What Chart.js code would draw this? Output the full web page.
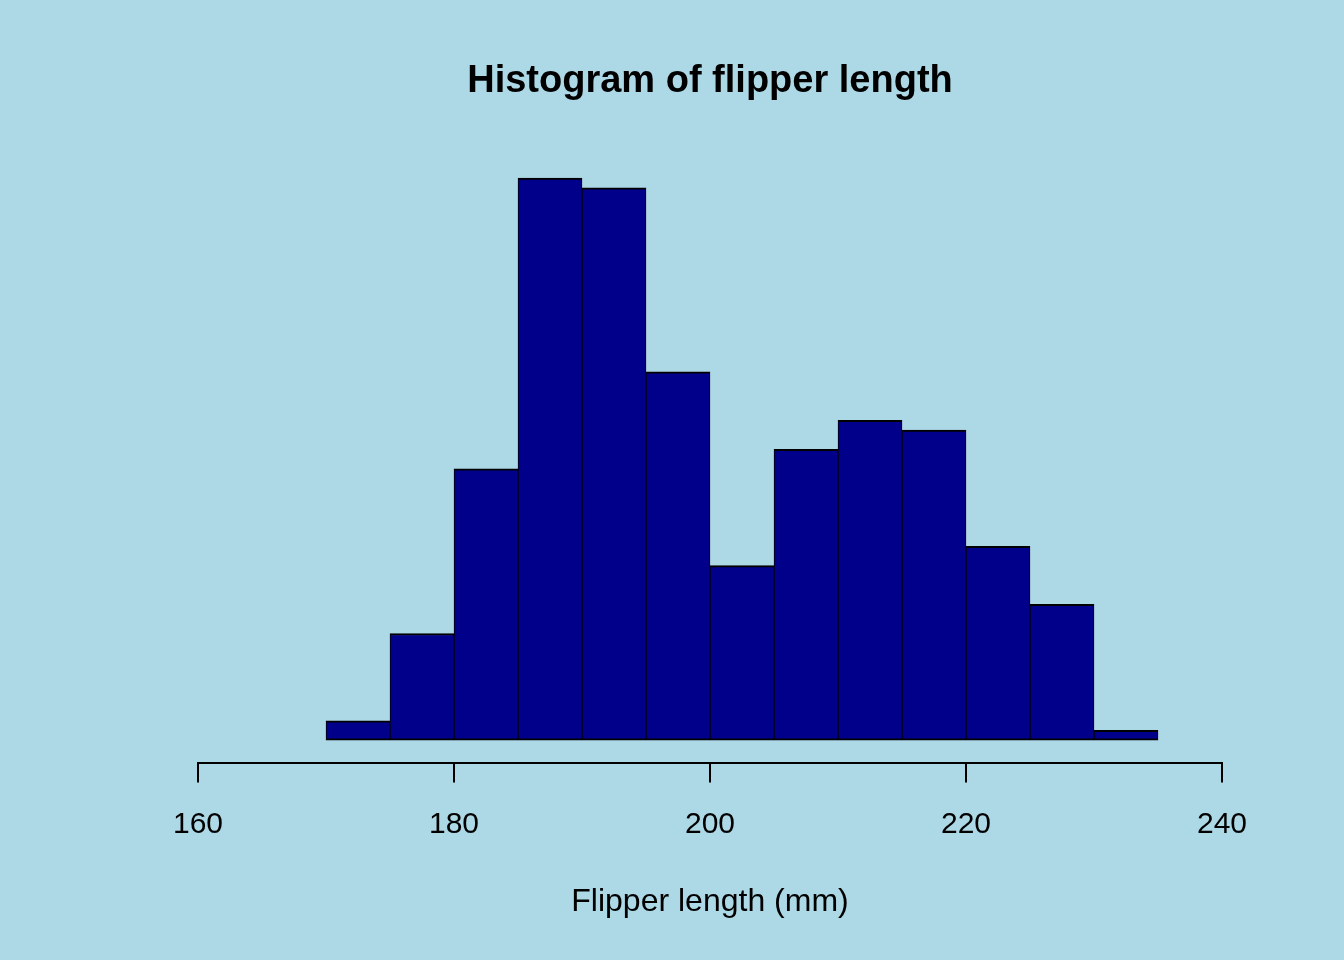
<!DOCTYPE html>
<html>
<head>
<meta charset="utf-8">
<title>Histogram of flipper length</title>
<script src="https://cdn.jsdelivr.net/npm/chart.js@4"></script>
<style>
  html, body { margin: 0; padding: 0; background: #ADD8E6; }
  #wrap { width: 1344px; height: 960px; }
</style>
</head>
<body>
<div id="wrap"><canvas id="myChart"></canvas></div>
<script>
// bin edges (width 5) and counts per bin
var breaks = [170, 175, 180, 185, 190, 195, 200, 205, 210, 215, 220, 225, 230, 235];
var counts = [2, 11, 28, 58, 57, 38, 18, 30, 33, 32, 20, 14, 1];
var xTicks = [160, 180, 200, 220, 240];

var points = [];
for (var i = 0; i < counts.length; i++) {
  points.push({ x: (breaks[i] + breaks[i + 1]) / 2, y: counts[i] });
}

var font = "Arial, 'Liberation Sans', sans-serif";
Chart.defaults.font.family = font;
Chart.defaults.color = '#000000';

var ctx = document.getElementById("myChart").getContext("2d");
var myChart = new Chart(ctx, {
  type: 'bar',
  data: {
    datasets: [{
      label: 'flipper length',
      data: points,
      backgroundColor: '#00008B',
      borderColor: '#000000',
      borderWidth: { top: 2, left: 1, right: 1, bottom: 2 },
      borderSkipped: false,
      barPercentage: 1,
      categoryPercentage: 1
    }]
  },
  options: {
    responsive: true,
    maintainAspectRatio: false,
    animation: false,
    layout: { padding: { left: 198, right: 122, top: 0, bottom: 39 } },
    plugins: {
      legend: { display: false },
      tooltip: { enabled: false },
      title: {
        display: true,
        text: 'Histogram of flipper length',
        fullSize: false,
        color: '#000000',
        font: { size: 38, weight: 'bold' },
        padding: { top: 59, bottom: 51 }
      }
    },
    scales: {
      x: {
        type: 'linear',
        min: 160,
        max: 240,
        offset: false,
        afterBuildTicks: function (axis) {
          axis.ticks = xTicks.map(function (v) { return { value: v }; });
        },
        border: { display: true, color: '#000000', width: 2 },
        grid: { offset: false, drawOnChartArea: false, color: '#000000', lineWidth: 2, tickLength: 20 },
        ticks: { color: '#000000', font: { size: 30 }, padding: 24, maxRotation: 0 },
        title: {
          display: true,
          text: 'Flipper length (mm)',
          color: '#000000',
          font: { size: 32 },
          padding: { top: 16, bottom: 0 }
        }
      },
      y: {
        display: false,
        min: -2.32,
        max: 60.32
      }
    }
  }
});
</script>
</body>
</html>
